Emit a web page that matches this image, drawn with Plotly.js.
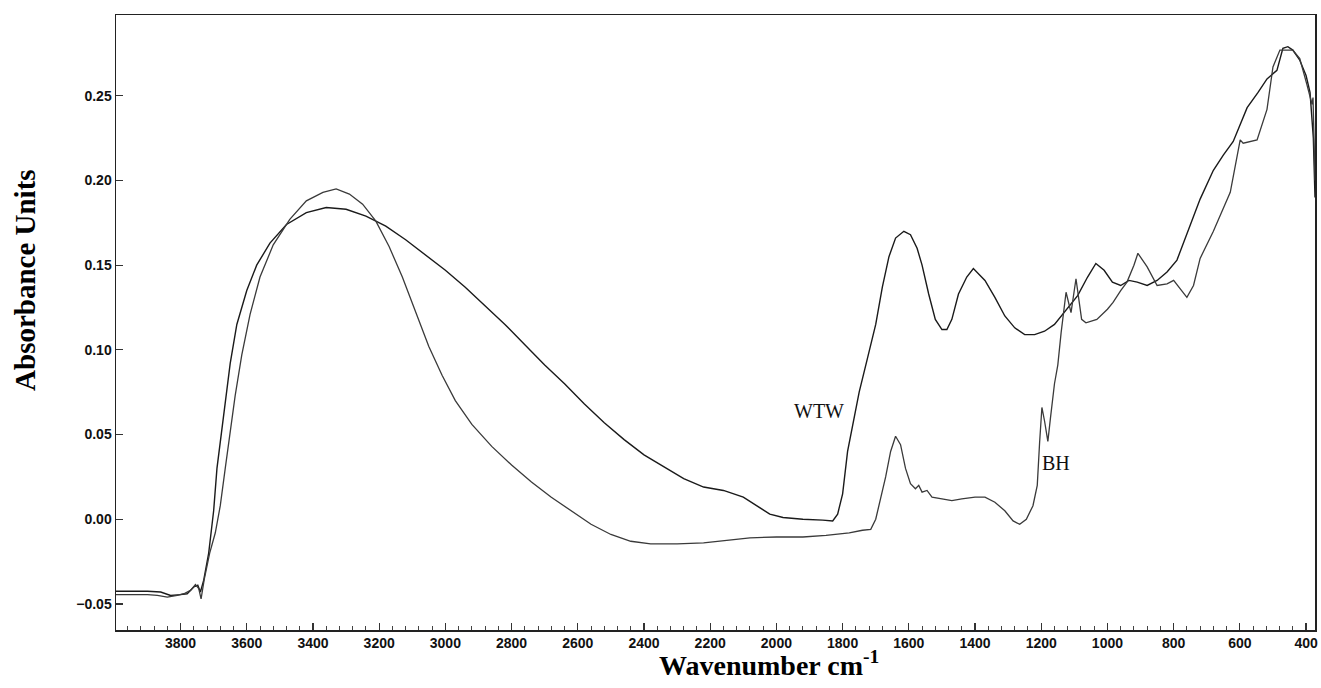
<!DOCTYPE html>
<html>
<head>
<meta charset="utf-8">
<script src="https://cdn.plot.ly/plotly-3.0.1.min.js"></script>
<style>html,body{margin:0;padding:0;background:#fff;}#chart{width:1321px;height:688px;}</style>
</head>
<body>
<div id="chart"></div>
<script>
// WTW spectrum (wavenumber, absorbance)
var wtwWavenumber = [3995,3900,3860,3830,3800,3780,3760,3748,3740,3730,3715,3700,3690,3680,3665,3650,3630,3600,3570,3530,3480,3420,3360,3300,3240,3180,3120,3060,3000,2940,2880,2820,2760,2700,2640,2580,2520,2460,2400,2340,2280,2220,2160,2100,2060,2020,1980,1920,1860,1830,1815,1800,1785,1770,1750,1725,1700,1680,1660,1640,1615,1595,1575,1560,1540,1520,1500,1485,1470,1450,1425,1405,1390,1370,1340,1310,1280,1250,1220,1190,1160,1130,1090,1060,1035,1010,985,960,935,910,880,850,820,790,760,720,680,650,620,578,545,518,488,470,455,440,419,400,388,378,373];
var wtwAbsorbance = [-0.0425,-0.0425,-0.043,-0.045,-0.0445,-0.044,-0.040,-0.039,-0.043,-0.036,-0.020,0.005,0.030,0.045,0.068,0.092,0.115,0.135,0.150,0.163,0.174,0.181,0.184,0.183,0.179,0.173,0.165,0.156,0.147,0.137,0.126,0.115,0.103,0.091,0.080,0.068,0.057,0.047,0.038,0.031,0.024,0.019,0.017,0.013,0.008,0.003,0.001,0.000,-0.0005,-0.001,0.003,0.015,0.040,0.055,0.075,0.095,0.115,0.137,0.155,0.166,0.170,0.168,0.160,0.150,0.133,0.118,0.112,0.112,0.118,0.133,0.143,0.148,0.145,0.141,0.131,0.120,0.113,0.109,0.109,0.111,0.115,0.122,0.132,0.143,0.151,0.147,0.140,0.138,0.141,0.140,0.138,0.141,0.146,0.153,0.168,0.189,0.206,0.215,0.223,0.243,0.252,0.260,0.265,0.278,0.279,0.277,0.271,0.262,0.252,0.225,0.190];

// BH spectrum (wavenumber, absorbance)
var bhWavenumber = [3995,3900,3870,3840,3810,3790,3770,3755,3745,3738,3728,3712,3695,3680,3665,3650,3635,3615,3590,3560,3520,3470,3420,3370,3330,3290,3250,3210,3170,3130,3090,3050,3010,2970,2920,2860,2800,2740,2680,2620,2560,2500,2440,2380,2300,2220,2150,2080,2000,1920,1850,1780,1740,1715,1700,1685,1670,1655,1640,1625,1610,1595,1580,1570,1560,1545,1530,1500,1470,1440,1400,1370,1340,1310,1285,1265,1245,1225,1212,1205,1198,1190,1180,1172,1160,1150,1140,1125,1110,1095,1078,1065,1032,1000,983,960,941,920,908,880,860,850,820,800,780,760,740,720,680,629,599,590,548,518,500,479,440,419,398,382,379,375,373];
var bhAbsorbance = [-0.0445,-0.0445,-0.045,-0.046,-0.045,-0.044,-0.042,-0.0385,-0.041,-0.047,-0.035,-0.020,-0.008,0.008,0.030,0.052,0.073,0.097,0.121,0.143,0.162,0.177,0.188,0.193,0.195,0.192,0.186,0.176,0.161,0.143,0.122,0.102,0.085,0.070,0.056,0.043,0.032,0.022,0.013,0.005,-0.003,-0.009,-0.013,-0.0145,-0.0145,-0.014,-0.0125,-0.011,-0.0105,-0.0105,-0.0095,-0.008,-0.0065,-0.006,0.000,0.012,0.025,0.040,0.049,0.044,0.030,0.021,0.018,0.020,0.016,0.017,0.013,0.012,0.011,0.012,0.013,0.013,0.010,0.005,-0.001,-0.003,0.000,0.008,0.020,0.045,0.066,0.058,0.046,0.060,0.080,0.091,0.110,0.134,0.122,0.142,0.118,0.116,0.118,0.124,0.128,0.135,0.140,0.150,0.157,0.149,0.141,0.138,0.139,0.141,0.136,0.131,0.138,0.154,0.170,0.193,0.224,0.222,0.224,0.242,0.267,0.277,0.277,0.272,0.257,0.245,0.249,0.225,0.200];

var seriesNames = ['WTW', 'BH'];
var xTitle = 'Wavenumber cm<sup>-1</sup>';
var yTitle = 'Absorbance Units';

var traces = [
  {x: wtwWavenumber, y: wtwAbsorbance, name: seriesNames[0], type: 'scatter', mode: 'lines',
   line: {color: '#1a1a1a', width: 1.4}},
  {x: bhWavenumber, y: bhAbsorbance, name: seriesNames[1], type: 'scatter', mode: 'lines',
   line: {color: '#3a3a3a', width: 1.3}}
];

var tickFont = {family: 'Liberation Sans, Arial, sans-serif', size: 14, color: '#111', weight: 'bold'};
var xTitleFont = {family: 'Liberation Serif, Times New Roman, serif', size: 28, color: '#000', weight: 'bold'};
var yTitleFont = {family: 'Liberation Serif, Times New Roman, serif', size: 29, color: '#000', weight: 'bold'};
var labelFont = {family: 'Liberation Serif, Times New Roman, serif', size: 20, color: '#111'};

var layout = {
  width: 1321, height: 688,
  margin: {l: 116, r: 6, t: 15, b: 58},
  paper_bgcolor: '#fff', plot_bgcolor: '#fff',
  showlegend: false,
  xaxis: {
    range: [3995, 373], showgrid: false, zeroline: false,
    showline: true, mirror: true, linecolor: '#222', linewidth: 1.5,
    ticks: 'inside', ticklen: 7, tickwidth: 1.2, tickcolor: '#333',
    tick0: 0, dtick: 200, tickfont: tickFont,
    minor: {ticks: 'inside', ticklen: 4, dtick: 40, tick0: 0, tickcolor: '#444', tickwidth: 1}
  },
  yaxis: {
    range: [-0.0654, 0.2977], showgrid: false, zeroline: false,
    showline: true, mirror: true, linecolor: '#222', linewidth: 1.5,
    ticks: 'inside', ticklen: 7, tickwidth: 1.2, tickcolor: '#333',
    tick0: 0, dtick: 0.05, tickformat: '.2f', tickfont: tickFont
  },
  annotations: [
    {text: xTitle, xref: 'paper', yref: 'paper', x: 0.545, y: -0.054, xanchor: 'center', yanchor: 'middle',
     showarrow: false, font: xTitleFont},
    {text: yTitle, xref: 'paper', yref: 'paper', x: -0.076, y: 0.569, xanchor: 'center', yanchor: 'middle',
     textangle: -90, showarrow: false, font: yTitleFont},
    {text: seriesNames[0], x: 1871, y: 0.0639, showarrow: false, font: labelFont, xanchor: 'center', yanchor: 'middle'},
    {text: seriesNames[1], x: 1155, y: 0.0332, showarrow: false, font: labelFont, xanchor: 'center', yanchor: 'middle'}
  ]
};

Plotly.newPlot('chart', traces, layout, {displayModeBar: false, staticPlot: true});
</script>
</body>
</html>
